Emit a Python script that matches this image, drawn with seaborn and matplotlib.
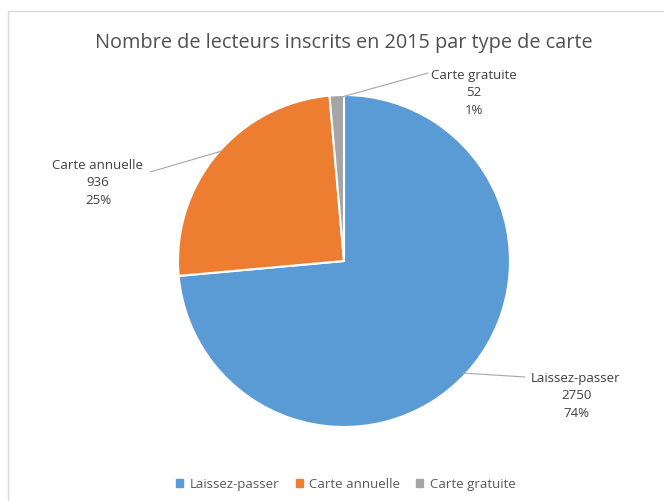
import matplotlib
matplotlib.use("Agg")
import matplotlib.pyplot as plt
import matplotlib.patches as mpatches
import seaborn as sns

categories = ["Laissez-passer", "Carte annuelle", "Carte gratuite"]
lecteurs = [2750, 936, 52]
pourcentages = ["74%", "25%", "1%"]
couleurs = ["#5B9BD5", "#ED7D31", "#A5A5A5"]

sns.set_theme(style="white")
plt.rcParams["font.family"] = ["Open Sans", "DejaVu Sans"]

W, H = 664, 502
fig = plt.figure(figsize=(W / 100, H / 100), dpi=100)
ax = fig.add_axes([0, 0, 1, 1])

# cadre gris autour du graphique
fig.patches.append(mpatches.Rectangle((8 / W, -0.1), 1.2, (H - 12) / H + 0.1,
                                      transform=fig.transFigure, fill=False,
                                      edgecolor="#D9D9D9", linewidth=1))

cx, cy, r = 344, H - 262, 166
wedges, _ = ax.pie(lecteurs, colors=couleurs, startangle=90, counterclock=False,
                   center=(cx, cy), radius=r,
                   wedgeprops=dict(edgecolor="white", linewidth=1.5))
ax.set_xlim(0, W)
ax.set_ylim(0, H)
ax.set_aspect("equal")
ax.axis("off")

# étiquettes avec lignes de rappel
label_pos = [(576, H - 396), (98, H - 183), (474, H - 93)]
line_pts = [((525, H - 378), (462, H - 374)),
            ((150, H - 173), (222, H - 152)),
            ((428, H - 74), (338, H - 99))]
for cat, val, pct, (tx, ty), (p0, p1) in zip(categories, lecteurs, pourcentages,
                                             label_pos, line_pts):
    ax.plot([p0[0], p1[0]], [p0[1], p1[1]], color="#A6A6A6", linewidth=0.8)
    ax.text(tx, ty, f"{cat}\n{val}\n{pct}", ha="center", va="center",
            fontsize=9.5, color="#404040", linespacing=1.45)

fig.text(344 / W, 1 - 43 / H, "Nombre de lecteurs inscrits en 2015 par type de carte",
         ha="center", va="center", fontsize=14.3, color="#505050")

handles = [mpatches.Patch(color=c, label=l) for c, l in zip(couleurs, categories)]
leg = ax.legend(handles=handles, loc="center", bbox_to_anchor=(346 / W, 1 - 485 / H),
                bbox_transform=fig.transFigure, ncol=3, frameon=False,
                handlelength=0.55, handleheight=0.55, handletextpad=0.5,
                columnspacing=1.2, fontsize=9.5)
for t in leg.get_texts():
    t.set_color("#595959")

fig.savefig("out.png", dpi=100)
